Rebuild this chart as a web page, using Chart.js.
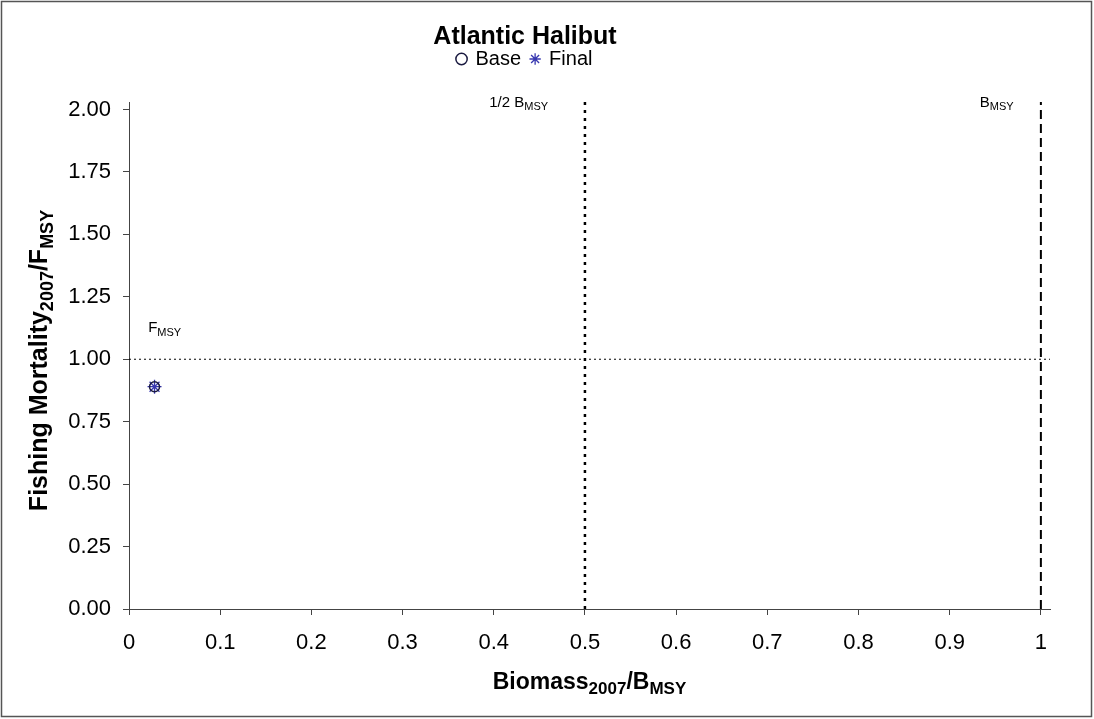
<!DOCTYPE html>
<html>
<head>
<meta charset="utf-8">
<script src="https://cdn.jsdelivr.net/npm/chart.js@4.4.1/dist/chart.umd.min.js"></script>
<style>
  body { margin: 0; background: #fff; }
  #wrap { width: 1094px; height: 719px; }
</style>
</head>
<body>
<div id="wrap"><canvas id="kobeChart" width="1094" height="719"></canvas></div>
<script>
// values
var xTicks = [0, 0.1, 0.2, 0.3, 0.4, 0.5, 0.6, 0.7, 0.8, 0.9, 1];
var xTickLabels = ['0', '0.1', '0.2', '0.3', '0.4', '0.5', '0.6', '0.7', '0.8', '0.9', '1'];
var yTicks = [0, 0.25, 0.5, 0.75, 1, 1.25, 1.5, 1.75, 2];
var yTickLabels = ['0.00', '0.25', '0.50', '0.75', '1.00', '1.25', '1.50', '1.75', '2.00'];

var basePoints = [{ x: 0.028, y: 0.89 }];
var finalPoints = [{ x: 0.028, y: 0.89 }];

var fmsyLine = [{ x: 0, y: 1 }, { x: 1.01, y: 1 }];
var halfBmsyLine = [{ x: 0.5, y: 0 }, { x: 0.5, y: 2.03 }];
var bmsyLine = [{ x: 1, y: 0 }, { x: 1, y: 2.03 }];

Chart.defaults.font.family = '"Liberation Sans", Arial, sans-serif';
Chart.defaults.color = '#000';

// draws text with subscript parts: [[text, isSub], ...]
function drawRich(ctx, parts, x, y, size, bold, align) {
    var subSize = Math.round(size * 0.72);
    var w = 0;
    parts.forEach(function(p) {
        ctx.font = (bold ? 'bold ' : '') + (p[1] ? subSize : size) + 'px "Liberation Sans", Arial, sans-serif';
        w += ctx.measureText(p[0]).width;
    });
    var cx = align === 'center' ? x - w / 2 : x;
    ctx.textBaseline = 'alphabetic';
    ctx.textAlign = 'left';
    parts.forEach(function(p) {
        ctx.font = (bold ? 'bold ' : '') + (p[1] ? subSize : size) + 'px "Liberation Sans", Arial, sans-serif';
        ctx.fillText(p[0], cx, p[1] ? y + size * 0.22 : y);
        cx += ctx.measureText(p[0]).width;
    });
}

// push the plot area down below the legend
var legendGap = {
    id: 'legendGap',
    beforeInit: function(chart) {
        var fitLegend = chart.legend.fit;
        chart.legend.fit = function() {
            fitLegend.bind(chart.legend)();
            this.height += 23;
        };
    }
};

var extras = {
    id: 'extras',
    afterDraw: function(chart) {
        var ctx = chart.ctx;
        var xs = chart.scales.x, ys = chart.scales.y;
        ctx.save();
        ctx.fillStyle = '#000';
        // reference line labels
        drawRich(ctx, [['F', false], ['MSY', true]], xs.getPixelForValue(0.021), ys.getPixelForValue(1.108), 15, false, 'left');
        drawRich(ctx, [['1/2 B', false], ['MSY', true]], xs.getPixelForValue(0.395), ys.getPixelForValue(2.01), 15, false, 'left');
        drawRich(ctx, [['B', false], ['MSY', true]], xs.getPixelForValue(0.933), ys.getPixelForValue(2.01), 15, false, 'left');
        // axis titles
        drawRich(ctx, [['Biomass', false], ['2007', true], ['/B', false], ['MSY', true]],
            (chart.chartArea.left + chart.chartArea.right) / 2, 689, 23, true, 'center');
        ctx.translate(47, (chart.chartArea.top + chart.chartArea.bottom) / 2 + 5);
        ctx.rotate(-Math.PI / 2);
        drawRich(ctx, [['Fishing Mortality', false], ['2007', true], ['/F', false], ['MSY', true]], 0, 0, 25, true, 'center');
        ctx.restore();
        // outer frame
        ctx.save();
        ctx.strokeStyle = '#555';
        ctx.lineWidth = 1.5;
        ctx.strokeRect(1.5, 1.5, 1090, 715);
        ctx.restore();
    }
};

var ctx = document.getElementById('kobeChart').getContext('2d');
var kobeChart = new Chart(ctx, {
    type: 'scatter',
    data: {
        datasets: [{
            label: 'Base',
            data: basePoints,
            pointStyle: 'circle',
            pointRadius: 5,
            pointBorderWidth: 1.5,
            borderColor: '#1a1a40',
            backgroundColor: 'rgba(0,0,0,0)'
        }, {
            label: 'Final',
            data: finalPoints,
            pointStyle: 'star',
            pointRadius: 7,
            pointBorderWidth: 1.3,
            borderColor: '#3838b0',
            backgroundColor: 'rgba(0,0,0,0)'
        }, {
            label: 'fmsy',
            data: fmsyLine,
            showLine: true,
            pointRadius: 0,
            borderColor: '#000',
            borderWidth: 1,
            borderDash: [2, 3]
        }, {
            label: 'halfBmsy',
            data: halfBmsyLine,
            showLine: true,
            pointRadius: 0,
            borderColor: '#000',
            borderWidth: 2.5,
            borderDash: [3, 5]
        }, {
            label: 'bmsy',
            data: bmsyLine,
            showLine: true,
            pointRadius: 0,
            borderColor: '#000',
            borderWidth: 2,
            borderDash: [9, 5]
        }]
    },
    options: {
        responsive: false,
        animation: false,
        layout: { padding: { left: 0, right: 44, top: 0, bottom: 0 } },
        plugins: {
            tooltip: { enabled: false },
            title: {
                display: true,
                text: 'Atlantic Halibut',
                font: { size: 25, weight: 'bold', lineHeight: 1 },
                padding: { top: 25, bottom: -11 }
            },
            legend: {
                display: true,
                labels: {
                    usePointStyle: true,
                    boxWidth: 8,
                    boxHeight: 8,
                    padding: 10,
                    font: { size: 20 },
                    filter: function(item) { return item.text === 'Base' || item.text === 'Final'; }
                }
            }
        },
        scales: {
            x: {
                type: 'linear',
                min: 0,
                max: 1.01,
                afterBuildTicks: function(scale) {
                    scale.ticks = xTicks.map(function(v) { return { value: v }; });
                },
                afterFit: function(scale) { scale.height = 110; },
                ticks: {
                    font: { size: 22 },
                    padding: 15,
                    maxRotation: 0,
                    callback: function(v) { return xTickLabels[xTicks.indexOf(v)]; }
                },
                grid: { drawOnChartArea: false, drawTicks: true, tickLength: 6, color: '#444' },
                border: { color: '#444', width: 1 }
            },
            y: {
                type: 'linear',
                min: 0,
                max: 2.03,
                afterBuildTicks: function(scale) {
                    scale.ticks = yTicks.map(function(v) { return { value: v }; });
                },
                afterFit: function(scale) { scale.width = 129; },
                ticks: {
                    font: { size: 22 },
                    padding: 12,
                    callback: function(v) { return yTickLabels[yTicks.indexOf(v)]; }
                },
                grid: { drawOnChartArea: false, drawTicks: true, tickLength: 6, color: '#444' },
                border: { color: '#444', width: 1 }
            }
        }
    },
    plugins: [legendGap, extras]
});
</script>
</body>
</html>
